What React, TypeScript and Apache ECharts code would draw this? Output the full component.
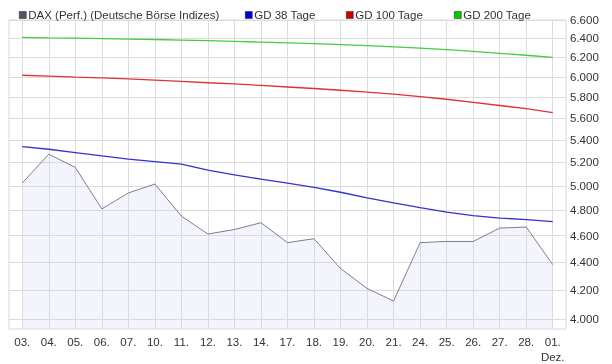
import React, { useEffect, useRef } from "react";
import * as echarts from "echarts";

const categories = ["03.", "04.", "05.", "06.", "07.", "10.", "11.", "12.", "13.", "14.", "17.", "18.", "19.", "20.", "21.", "24.", "25.", "26.", "27.", "28.", "01.\nDez."];
const daxValues = [5024, 5272, 5157, 4811, 4941, 5016, 4753, 4613, 4648, 4701, 4547, 4577, 4354, 4211, 4124, 4547, 4556, 4556, 4659, 4667, 4383];
const gd38Values = [5340, 5316, 5287, 5257, 5229, 5208, 5185, 5134, 5093, 5057, 5024, 4988, 4947, 4900, 4859, 4821, 4785, 4758, 4738, 4726, 4710];
const gd100Values = [6017, 6008, 5998, 5990, 5980, 5968, 5955, 5942, 5930, 5915, 5900, 5885, 5868, 5850, 5830, 5805, 5780, 5750, 5720, 5690, 5653];
const gd200Values = [6410, 6405, 6402, 6398, 6393, 6388, 6382, 6376, 6368, 6360, 6352, 6344, 6334, 6322, 6310, 6296, 6280, 6262, 6242, 6222, 6200];
const yTickValues = [4000, 4200, 4400, 4600, 4800, 5000, 5200, 5400, 5600, 5800, 6000, 6200, 6400, 6600];

const seriesNames = ["DAX (Perf.) (Deutsche Börse Indizes)", "GD 38 Tage", "GD 100 Tage", "GD 200 Tage"];
const seriesColors = ["#50536a", "#0000cc", "#cc0000", "#00cc00"];

const FONT = "'Liberation Sans', Arial, sans-serif";
const FS = 11.5;

export default function App() {
  const ref = useRef<HTMLDivElement>(null);
  useEffect(() => {
    if (!ref.current) return;
    const chart = echarts.init(ref.current, null, { renderer: "svg" });
    const idx = categories.map((_, i) => i);
    const toPairs = (arr: number[]) => arr.map((v, i) => [i, v]);
    const legendLefts = [19, 245, 346, 454];
    chart.setOption({
      animation: false,
      textStyle: { fontFamily: FONT },
      legend: seriesNames.map((n, i) => ({
        data: [{ name: n, itemStyle: { color: seriesColors[i], borderColor: "#222", borderWidth: 0.5 } }],
        left: legendLefts[i],
        top: 9,
        padding: 0,
        icon: "rect",
        itemWidth: 7,
        itemHeight: 7,
        selectedMode: false,
        textStyle: { fontSize: FS, color: "#333", fontFamily: FONT, padding: [0, 0, 0, -3] },
      })),
      grid: {
        left: 9,
        right: 46,
        top: 20,
        bottom: 33,
        show: true,
        borderColor: "#d8d8d8",
        borderWidth: 1,
        containLabel: false,
      },
      xAxis: {
        type: "value",
        min: -0.5,
        max: categories.length - 0.5,
        axisLine: { show: false },
        axisTick: { show: false, customValues: idx },
        splitLine: { show: true, lineStyle: { color: "#dcdce4", width: 1 } },
        axisLabel: {
          customValues: idx,
          formatter: (v: number) => categories[Math.round(v)] ?? "",
          color: "#333",
          fontSize: FS,
          fontFamily: FONT,
          margin: 5,
          lineHeight: 15,
          showMinLabel: true,
          showMaxLabel: true,
        },
      },
      yAxis: {
        type: "log",
        position: "right",
        min: 3935,
        max: 6600,
        axisLine: { show: false },
        axisTick: { show: false, customValues: yTickValues },
        splitLine: { show: true, lineStyle: { color: "#dcdcdc", width: 1 } },
        axisLabel: {
          customValues: yTickValues,
          formatter: (v: number) => (v / 1000).toFixed(3),
          color: "#333",
          fontSize: FS,
          fontFamily: FONT,
          margin: 4,
        },
      },
      series: [
        {
          name: seriesNames[0],
          type: "line",
          data: toPairs(daxValues),
          showSymbol: false,
          itemStyle: { color: seriesColors[0] },
          lineStyle: { color: "#7c7e90", width: 1 },
          areaStyle: { color: "rgba(205,208,240,0.3)", origin: "start" },
          z: 1,
        },
        {
          name: seriesNames[1],
          type: "line",
          data: toPairs(gd38Values),
          showSymbol: false,
          itemStyle: { color: seriesColors[1] },
          lineStyle: { color: "#3333cc", width: 1.3 },
          z: 2,
        },
        {
          name: seriesNames[2],
          type: "line",
          data: toPairs(gd100Values),
          showSymbol: false,
          itemStyle: { color: seriesColors[2] },
          lineStyle: { color: "#dd3333", width: 1.3 },
          z: 2,
        },
        {
          name: seriesNames[3],
          type: "line",
          data: toPairs(gd200Values),
          showSymbol: false,
          itemStyle: { color: seriesColors[3] },
          lineStyle: { color: "#44cc44", width: 1.3 },
          z: 2,
        },
      ],
    });
    return () => chart.dispose();
  }, []);
  return <div ref={ref} style={{ position: "fixed", left: 0, top: 0, width: 612, height: 364 }} />;
}
